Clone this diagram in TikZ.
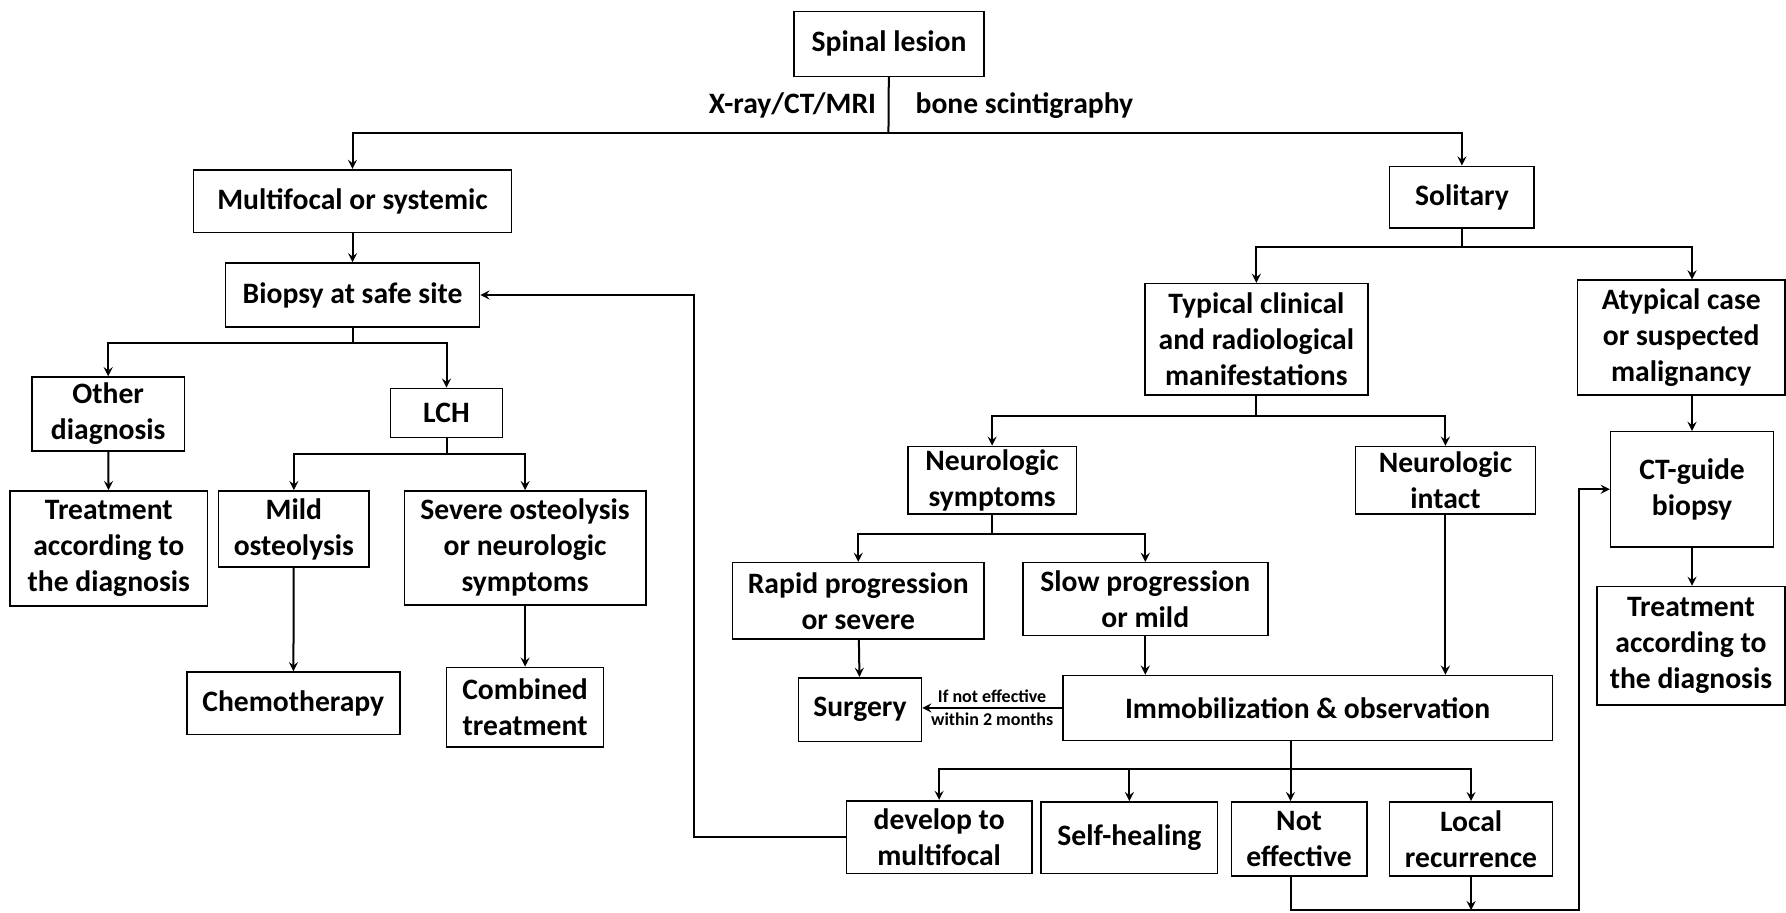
\documentclass[tikz,border=0pt]{standalone}
\usepackage{fontspec}
\setmainfont{Carlito}
\tikzset{
  box/.style={draw, line width=0.8pt, align=center, inner sep=1pt,
    font=\fontsize{14.8}{18}\selectfont\bfseries},
  sz/.style 2 args={minimum width=#1*0.02cm, minimum height=#2*0.02cm},
  lbl/.style={inner sep=0pt, font=\fontsize{14.8}{18}\selectfont\bfseries},
  note/.style={inner sep=2pt, font=\fontsize{9}{10}\selectfont\bfseries}
}
\begin{document}
\begin{tikzpicture}[x=0.02cm, y=-0.02cm, line width=1pt, >=stealth]
		\useasboundingbox (0,0) rectangle (1568,801);
		% left branch
		\node[box, sz={167}{57}] (spinal) at (780.5,38.5) {Spinal lesion};
		\node[box, sz={279}{55}] (multi) at (309.5,176.5) {Multifocal or systemic};
		\node[box, sz={223}{56}] (biopsy) at (309.5,259) {Biopsy at safe site};
		\node[box, sz={134}{65}] (other) at (95,363.5) {Other\\diagnosis};
		\node[box, sz={98}{43}] (lch) at (392,362.5) {LCH};
		\node[box, sz={173}{101}] (treatA) at (95.5,481.5) {Treatment\\according to\\the diagnosis};
		\node[box, sz={132}{67}] (mild) at (258,464.5) {Mild\\osteolysis};
		\node[box, sz={212}{100}] (severe) at (461,481) {Severe osteolysis\\or neurologic\\symptoms};
		\node[box, sz={187}{55}] (chemo) at (257.5,617.5) {Chemotherapy};
		\node[box, sz={138}{70}] (combined) at (461,621) {Combined\\treatment};
		% right branch
		\node[box, sz={127}{54}] (solitary) at (1283.5,173) {Solitary};
		\node[box, sz={196}{98}] (typical) at (1103,298) {Typical clinical\\and radiological\\manifestations};
		\node[box, sz={182}{101}] (atypical) at (1476,296.5) {Atypical case\\or suspected\\malignancy};
		\node[box, sz={143}{101}] (ct) at (1485.5,429.5) {CT-guide\\biopsy};
		\node[box, sz={165}{104}] (treatB) at (1484.5,567) {Treatment\\according to\\the diagnosis};
		\node[box, sz={148}{59}] (neuro) at (871,421.5) {Neurologic\\symptoms};
		\node[box, sz={158}{59}] (intact) at (1269,421.5) {Neurologic\\intact};
		\node[box, sz={221}{67}] (rapid) at (753.5,527.5) {Rapid progression\\or severe};
		\node[box, sz={215}{64}] (slow) at (1005.5,526) {Slow progression\\or mild};
		\node[box, sz={108}{56}] (surgery) at (755,623) {Surgery};
		\node[box, sz={430}{57}] (immob) at (1148,621.5) {Immobilization \& observation};
		\node[box, sz={163}{64}] (develop) at (824.5,735) {develop to\\multifocal};
		\node[box, sz={155}{63}] (self) at (991.5,735.5) {Self-healing};
		\node[box, sz={119}{65}] (noteff) at (1140.5,736.5) {Not\\effective};
		\node[box, sz={143}{65}] (local) at (1291.5,736.5) {Local\\recurrence};
		% fork points
		\coordinate (s0) at (780,117);
		\coordinate (s1) at (309.5,301);
		\coordinate (s2) at (392,399);
		\coordinate (s3) at (1283.5,217);
		\coordinate (s4) at (1103,365);
		\coordinate (s5) at (871,469);
		\coordinate (s6) at (1133,675);
		\coordinate (fb) at (609,735);
		\coordinate (lp) at (1386,799);
		\node[lbl, anchor=east] (xray) at (770,93) {X-ray/CT/MRI};
		\node[lbl, anchor=west] (bone) at (803,93) {bone scintigraphy};
		% connectors
		\draw (spinal) -- (s0);
		\draw[->] (s0) -| (multi);
		\draw[->] (s0) -| (solitary);
		\draw[->] (multi) -- (biopsy);
		\draw (biopsy) -- (s1);
		\draw[->] (s1) -| (other);
		\draw[->] (s1) -| (lch);
		\draw[->] (other) -- (treatA);
		\draw (lch) -- (s2);
		\draw[->] (s2) -| (mild);
		\draw[->] (s2) -| (severe);
		\draw[->] (mild) -- (chemo);
		\draw[->] (severe) -- (combined);
		\draw (solitary) -- (s3);
		\draw[->] (s3) -| (typical);
		\draw[->] (s3) -| (ct |- atypical.north);
		\draw[->] (ct |- atypical.south) -- (ct);
		\draw[->] (ct) -- (ct |- treatB.north);
		\draw (typical) -- (s4);
		\draw[->] (s4) -| (neuro);
		\draw[->] (s4) -| (intact);
		\draw (neuro) -- (s5);
		\draw[->] (s5) -| (rapid);
		\draw[->] (s5) -| (slow);
		\draw[->] (rapid) -- (surgery);
		\draw[->] (slow) -- (slow |- immob.north);
		\draw[->] (intact) -- (intact |- immob.north);
		\draw[->] (immob.west) -- (immob.west -| surgery.east)
			node[note, midway, above] {If not effective}
			node[note, midway, below] {within 2 months};
		\draw[->] (s6 |- immob.south) -- (s6 |- noteff.north);
		\draw[->] (s6) -| (develop);
		\draw[->] (s6) -| (self);
		\draw[->] (s6) -| (local);
		\draw[->] (develop.west) -- (fb) |- (biopsy.east);
		\draw[->] (s6 |- noteff.south) |- (lp) |- (ct.west);
		\draw[->] (local) -- (local |- lp);
\end{tikzpicture}
\end{document}
